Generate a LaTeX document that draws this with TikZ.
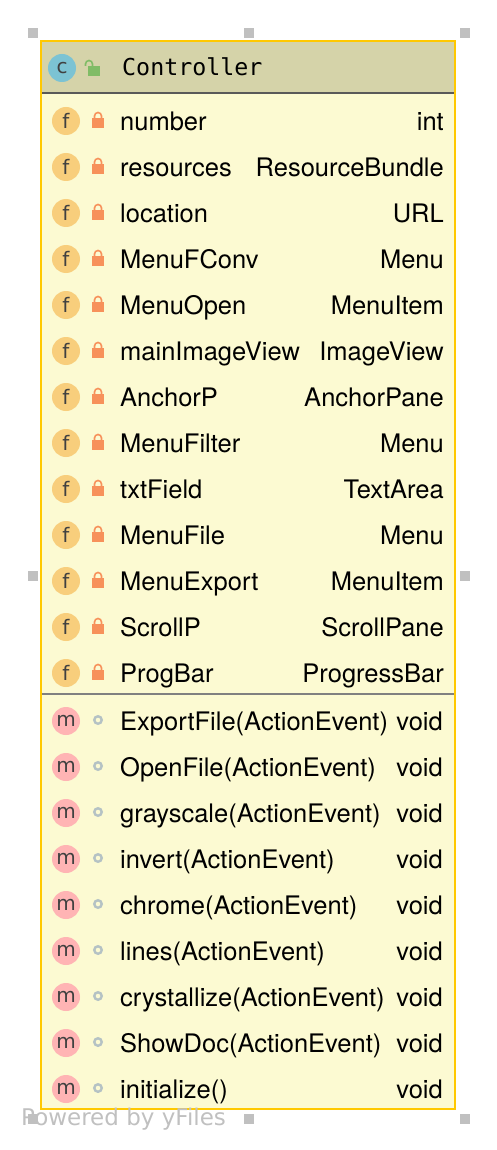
\documentclass[tikz,border=0pt]{standalone}
\usepackage{fontspec}
\setmainfont{TeX Gyre Heros}
\setmonofont{DejaVu Sans Mono}
\newfontfamily\markfont{DejaVu Sans}
\definecolor{boxedge}{HTML}{FFC800}
\definecolor{boxfill}{HTML}{FCFAD2}
\definecolor{headfill}{HTML}{D5D3A9}
\definecolor{fieldmark}{HTML}{F8CE7C}
\definecolor{methodmark}{HTML}{FFB4B4}
\definecolor{classmark}{HTML}{7CC3D3}
\definecolor{lockred}{HTML}{F7915A}
\definecolor{lockgreen}{HTML}{80BC66}
\definecolor{ringgrey}{HTML}{B5C2C4}
\definecolor{handlegrey}{HTML}{C0C0C0}
\definecolor{lettergrey}{HTML}{404040}
\tikzset{
	x=1pt,y=-1pt,
	badge/.style={circle,inner sep=0pt,minimum size=28pt,text=lettergrey,font=\markfont\fontsize{20}{20}\selectfont},
	rowname/.style={anchor=base west,inner sep=0pt,font=\fontsize{25.5}{26}\selectfont},
	rowtype/.style={anchor=base east,inner sep=0pt,font=\fontsize{25.5}{26}\selectfont},
	handle/.style={fill=handlegrey,draw=none,inner sep=0pt,minimum size=10pt},
	ring/.style={circle,draw=ringgrey,line width=2.4pt,inner sep=0pt,minimum size=7.5pt}
}
% one field row: node id, y of the row, name, type
\newcommand{\fieldrow}[4]{
	\node[badge,fill=fieldmark] (#1f) at (66,#2) {f};
	\fill[lockred] (92,#2-3) rectangle (104,#2+7);
	\draw[lockred,line width=1.6pt] (94.5,#2-3) -- (94.5,#2-5) arc[start angle=180,end angle=0,radius=3.5pt] -- (101.5,#2-3);
	\node[rowname] (#1n) at (120,#2+9.5) {#3};
	\node[rowtype] (#1t) at (444,#2+9.5) {#4};
}
% one method row
\newcommand{\methodrow}[4]{
	\node[badge,fill=methodmark] (#1m) at (66,#2) {m};
	\node[ring] (#1r) at (98,#2-1) {};
	\node[rowname] (#1n) at (120,#2+9.5) {#3};
	\node[rowtype] (#1t) at (443,#2+9.5) {#4};
}
\begin{document}
\begin{tikzpicture}
	\useasboundingbox (0,0) rectangle (496,1150);
	\fill[boxfill] (41,41) rectangle (455,1109);
	\fill[headfill] (41,41) rectangle (455,92);
	\draw[black!65,line width=1.6pt] (41,93) -- (455,93);
	\draw[black!50,line width=1.6pt] (41,694) -- (455,694);
	\draw[boxedge,line width=2.6pt] (41,41) rectangle (455,1109);
	\node[badge,fill=classmark] (cmark) at (62,68) {c};
	\fill[lockgreen] (88,66) rectangle (100,76);
	\draw[lockgreen,line width=1.6pt] (85.5,66) -- (85.5,64) arc[start angle=180,end angle=0,radius=3.5pt] -- (92.5,66);
	\node[anchor=base west,inner sep=0pt,font=\ttfamily\fontsize{23.3}{24}\selectfont] (title) at (122,76) {Controller};
	\fieldrow{a}{121}{number}{int}
	\fieldrow{b}{167}{resources}{ResourceBundle}
	\fieldrow{c}{213}{location}{URL}
	\fieldrow{d}{259}{MenuFConv}{Menu}
	\fieldrow{e}{305}{MenuOpen}{MenuItem}
	\fieldrow{g}{351}{mainImageView}{ImageView}
	\fieldrow{h}{397}{AnchorP}{AnchorPane}
	\fieldrow{i}{443}{MenuFilter}{Menu}
	\fieldrow{j}{489}{txtField}{TextArea}
	\fieldrow{k}{535}{MenuFile}{Menu}
	\fieldrow{l}{581}{MenuExport}{MenuItem}
	\fieldrow{p}{627}{ScrollP}{ScrollPane}
	\fieldrow{q}{673}{ProgBar}{ProgressBar}
	\methodrow{r}{721}{ExportFile(ActionEvent)}{void}
	\methodrow{s}{767}{OpenFile(ActionEvent)}{void}
	\methodrow{t}{813}{grayscale(ActionEvent)}{void}
	\methodrow{u}{859}{invert(ActionEvent)}{void}
	\methodrow{v}{905}{chrome(ActionEvent)}{void}
	\methodrow{w}{951}{lines(ActionEvent)}{void}
	\methodrow{x}{997}{crystallize(ActionEvent)}{void}
	\methodrow{y}{1043}{ShowDoc(ActionEvent)}{void}
	\methodrow{z}{1089}{initialize()}{void}
	\node[anchor=base west,inner sep=0pt,text=handlegrey,font=\markfont\fontsize{23}{23}\selectfont] (powered) at (21,1125) {Powered by yFiles};
	\node[handle] (h1) at (33,33) {};
	\node[handle] (h2) at (249,33) {};
	\node[handle] (h3) at (465,33) {};
	\node[handle] (h4) at (33,576) {};
	\node[handle] (h5) at (465,576) {};
	\node[handle] (h6) at (33,1119) {};
	\node[handle] (h7) at (249,1119) {};
	\node[handle] (h8) at (465,1119) {};
\end{tikzpicture}
\end{document}
